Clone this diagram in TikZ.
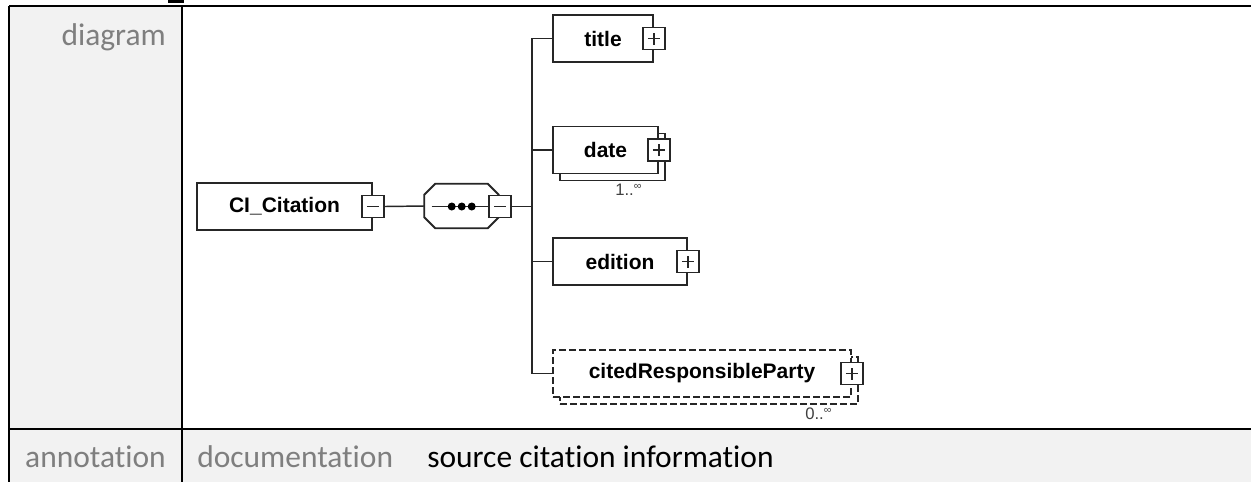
\documentclass[tikz,border=0pt]{standalone}
\usepackage{fontspec}
\setmainfont[Ligatures=NoCommon]{Carlito}
\newfontfamily\arialfont{Liberation Sans}
\usetikzlibrary{calc}
\definecolor{cellgray}{HTML}{F2F2F2}
\definecolor{labelgray}{HTML}{7F7F7F}
\tikzset{
  tableline/.style={line width=1.5pt,black},
  elbox/.style={draw=black!85, fill=white, line width=1.4pt, inner sep=0pt, minimum height=35.25pt,
    font=\arialfont\bfseries\fontsize{15.75}{18}\selectfont},
  shadowbox/.style={draw=black!85, fill=white, line width=1.4pt, inner sep=0pt, minimum height=35.25pt},
  optbox/.style={dash pattern=on 5pt off 2.5pt},
  conn/.style={draw=black!85, line width=1.1pt},
  pmbase/.style={draw=black!85, fill=white, line width=1.4pt, minimum size=16.5pt, inner sep=0pt},
  minusbox/.style={pmbase, path picture={\draw[line width=1.2pt] ([xshift=-4.5pt]path picture bounding box.center) -- ([xshift=4.5pt]path picture bounding box.center);}},
  plusbox/.style={pmbase, path picture={\draw[line width=1.2pt] ([xshift=-4.5pt]path picture bounding box.center) -- ([xshift=4.5pt]path picture bounding box.center);
      \draw[line width=1.2pt] ([yshift=-4.5pt]path picture bounding box.center) -- ([yshift=4.5pt]path picture bounding box.center);}},
  headtext/.style={font=\fontsize{23.6}{28}\selectfont, text=labelgray, inner sep=0pt},
  valtext/.style={font=\fontsize{23.6}{28}\selectfont, text=black, inner sep=0pt},
  occ/.style={font=\arialfont\fontsize{12.5}{12.5}\selectfont, text=black!75, inner sep=0pt},
  dot/.style={circle, fill=black, inner sep=0pt, minimum size=6pt}
}
\begin{document}
\begin{tikzpicture}[x=0.75pt,y=-0.75pt]
\useasboundingbox (0,0) rectangle (1251,482);
% backgrounds
\fill[white] (0,0) rectangle (1251,482);
\fill[cellgray] (9,6) rectangle (182,429);
\fill[cellgray] (9,429) rectangle (1251,482);
% heading remnant
\fill[black] (168,0) rectangle (184,3);
% table lines
\draw[tableline] (9,6) -- (1251,6);
\draw[tableline] (9,429) -- (1251,429);
\draw[tableline] (9,6) -- (9,482);
\draw[tableline] (182,6) -- (182,482);
% table texts
\node[headtext, anchor=base east] (hdiag) at (166,45.5) {diagram};
\node[headtext, anchor=base east] (hann) at (166,467) {annotation};
\node[headtext, anchor=base west] (hdoc) at (197,467) {documentation};
\node[valtext, anchor=base west] (vdoc) at (427,467) {source citation information};

% root element
\node[elbox, minimum width=131.25pt] (root) at (284.5,206.5) {CI\_Citation};
\node[minusbox] (rootm) at (root.east) {};

% sequence compositor
\node[inner sep=0pt, minimum width=55.5pt, minimum height=33pt] (seq) at (461.5,206) {};
\draw[conn, fill=white, line width=1.4pt]
  ($(seq.north west)+(0,11)$) -- ($(seq.north west)+(11,0)$) -- ($(seq.north east)+(-11,0)$) -- ($(seq.north east)+(0,11)$)
  -- ($(seq.south east)+(0,-11)$) -- ($(seq.south east)+(-11,0)$) -- ($(seq.south west)+(11,0)$) -- ($(seq.south west)+(0,-11)$) -- cycle;
\node[minusbox] (seqm) at (500,206.5) {};
\coordinate (seqin) at (431.7,206.5);
\draw[conn] (seqin) -- (seqm.west);
\node[dot] (d1) at (451.7,206.5) {};
\node[dot] (d2) at (461.7,206.5) {};
\node[dot] (d3) at (471.7,206.5) {};

\draw[conn] (rootm.east) -- (seq.west);
\coordinate (bus) at (532,206.5);
\draw[conn] (seqm.east) -- (bus);

% children
\node[elbox, minimum width=75pt] (title) at (603,38.5) {title};
\node[plusbox] (titlep) at (title.east) {};

\node[shadowbox, minimum width=78.75pt] (dateb) at (612.5,157) {};
\node[elbox, minimum width=78.75pt] (date) at (605.5,150) {date};
\node[plusbox] (datep) at (date.east) {};
\node[occ, anchor=base west] (dateocc) at (615,195) {1..\raisebox{4pt}{\fontsize{8}{8}\selectfont ∞}};

\node[elbox, minimum width=100.5pt] (edition) at (620,261.5) {edition};
\node[plusbox] (editionp) at (edition.east) {};

\node[shadowbox, optbox, minimum width=223.5pt] (citedb) at (709,380.5) {};
\node[elbox, optbox, minimum width=223.5pt] (cited) at (702,373.5) {citedResponsibleParty};
\node[plusbox] (citedp) at (cited.east) {};
\node[occ, anchor=base west] (citedocc) at (805,419) {0..\raisebox{4pt}{\fontsize{8}{8}\selectfont ∞}};

% bus connectors
\draw[conn] (title.west) -| (bus);
\draw[conn] (date.west) -| (bus);
\draw[conn] (edition.west) -| (bus);
\draw[conn] (cited.west) -| (bus);
\end{tikzpicture}
\end{document}
